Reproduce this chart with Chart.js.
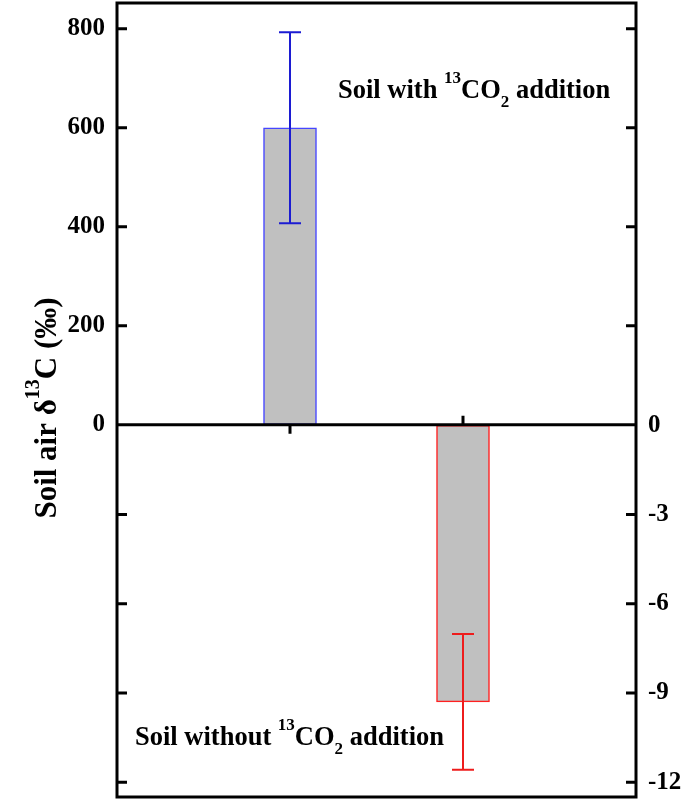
<!DOCTYPE html>
<html>
<head>
<meta charset="utf-8">
<script src="https://cdn.jsdelivr.net/npm/chart.js@4.4.1/dist/chart.umd.min.js"></script>
<style>
  html, body { margin: 0; padding: 0; background: #fff; }
  #chart { display: block; }
</style>
</head>
<body>
<canvas id="chart" width="685" height="801"></canvas>
<script>
// ---- data ----
const groupNames = ['Soil with 13CO2 addition', 'Soil without 13CO2 addition'];
const barX = [1, 2];
const meanVals = [600, -9.3];
const errVals = [193, 2.28];
const axisIds = ['y', 'y2'];
const leftTicks = [0, 200, 400, 600, 800];
const rightTicks = [0, -3, -6, -9, -12];

const barEdge = ['#4646ff', '#ff2020'];
const errColor = ['#1c1cd2', '#ee1c1c'];
const FONT = '"Liberation Serif", "Times New Roman", serif';

// draw a run of text pieces: [text, 'n' | 'sup' | 'sub']
function richWidth(ctx, parts, size) {
  let w = 0;
  parts.forEach(([t, k]) => {
    ctx.font = `bold ${k === 'n' ? size : Math.round(size * 0.66)}px ${FONT}`;
    w += ctx.measureText(t).width;
  });
  return w;
}
function richText(ctx, parts, x, y, size) {
  ctx.textAlign = 'left';
  ctx.textBaseline = 'alphabetic';
  parts.forEach(([t, k]) => {
    const s = k === 'n' ? size : Math.round(size * 0.66);
    const dy = k === 'sup' ? -size * 0.55 : k === 'sub' ? size * 0.35 : 0;
    ctx.font = `bold ${s}px ${FONT}`;
    ctx.fillText(t, x, y + dy);
    x += ctx.measureText(t).width;
  });
}

const decor = {
  id: 'decor',
  afterDatasetsDraw(chart) {
    const { ctx, chartArea: a, scales } = chart;
    const yl = scales.y, yr = scales.y2, xs = scales.x;
    const zeroY = yl.getPixelForValue(0);
    ctx.save();

    // error bars
    meanVals.forEach((m, i) => {
      const sc = scales[axisIds[i]];
      const cx = xs.getPixelForValue(barX[i]);
      const top = sc.getPixelForValue(m + errVals[i]);
      const bot = sc.getPixelForValue(m - errVals[i]);
      ctx.strokeStyle = errColor[i];
      ctx.lineWidth = 2;
      ctx.beginPath();
      ctx.moveTo(cx, top); ctx.lineTo(cx, bot);
      ctx.moveTo(cx - 11, top); ctx.lineTo(cx + 11, top);
      ctx.moveTo(cx - 11, bot); ctx.lineTo(cx + 11, bot);
      ctx.stroke();
    });

    ctx.strokeStyle = '#000';
    ctx.lineWidth = 3;
    // zero line
    ctx.beginPath();
    ctx.moveTo(a.left, zeroY); ctx.lineTo(a.right, zeroY);
    ctx.stroke();
    // frame
    ctx.strokeRect(a.left, a.top, a.right - a.left, a.bottom - a.top);

    // inward ticks on both sides
    const tickLen = 10;
    const ys = leftTicks.filter(v => v !== 0).map(v => yl.getPixelForValue(v))
      .concat(rightTicks.filter(v => v !== 0).map(v => yr.getPixelForValue(v)));
    ctx.beginPath();
    ys.forEach(py => {
      ctx.moveTo(a.left, py); ctx.lineTo(a.left + tickLen, py);
      ctx.moveTo(a.right, py); ctx.lineTo(a.right - tickLen, py);
    });
    // category ticks on the zero line
    const x1 = xs.getPixelForValue(barX[0]);
    const x2 = xs.getPixelForValue(barX[1]);
    ctx.moveTo(x1, zeroY); ctx.lineTo(x1, zeroY + 9);
    ctx.moveTo(x2, zeroY); ctx.lineTo(x2, zeroY - 9);
    ctx.stroke();

    // annotations
    ctx.fillStyle = '#000';
    richText(ctx, [['Soil with ', 'n'], ['13', 'sup'], ['CO', 'n'], ['2', 'sub'], [' addition', 'n']], 338, 98, 26.5);
    richText(ctx, [['Soil without ', 'n'], ['13', 'sup'], ['CO', 'n'], ['2', 'sub'], [' addition', 'n']], 135, 745, 26.5);

    // y title, rotated
    const title = [['Soil air δ', 'n'], ['13', 'sup'], ['C (‰)', 'n']];
    const tw = richWidth(ctx, title, 31);
    ctx.translate(56, 408);
    ctx.rotate(-Math.PI / 2);
    richText(ctx, title, -tw / 2, 0, 31);
    ctx.restore();
  }
};

const tickFont = { family: FONT, size: 25, weight: 'bold' };
const noPad = s => { s.paddingTop = 0; s.paddingBottom = 0; };

new Chart(document.getElementById('chart'), {
  type: 'bar',
  data: {
    datasets: groupNames.map((g, i) => ({
      label: g,
      yAxisID: axisIds[i],
      data: [{ x: barX[i], y: meanVals[i] }],
      backgroundColor: '#c0c0c0',
      borderColor: barEdge[i],
      borderWidth: 1.5,
      borderSkipped: false,
      barThickness: 53,
      grouped: false,
    })),
  },
  options: {
    responsive: false,
    animation: false,
    layout: { padding: { top: 3, bottom: 4, left: 0, right: 0 } },
    plugins: { legend: { display: false }, tooltip: { enabled: false } },
    scales: {
      x: { type: 'linear', min: 0, max: 3, offset: false, display: false },
      y: {
        position: 'left',
        min: -752, max: 852,
        afterBuildTicks: s => { s.ticks = leftTicks.map(v => ({ value: v })); },
        afterFit: s => { s.width = 117; noPad(s); },
        grid: { display: false, drawTicks: false },
        border: { display: false },
        ticks: { color: '#000', font: tickFont, padding: 12, callback: v => String(v) },
      },
      y2: {
        position: 'right',
        min: -12.5, max: 14.2,
        afterBuildTicks: s => { s.ticks = rightTicks.map(v => ({ value: v })); },
        afterFit: s => { s.width = 49; noPad(s); },
        grid: { display: false, drawTicks: false },
        border: { display: false },
        ticks: { color: '#000', font: tickFont, padding: 12, callback: v => String(v) },
      },
    },
  },
  plugins: [decor],
});
</script>
</body>
</html>
